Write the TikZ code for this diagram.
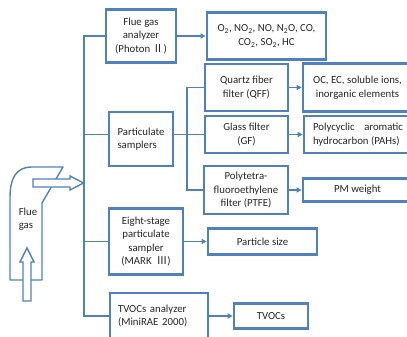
\documentclass[tikz,border=0pt]{standalone}
\usepackage{fontspec}
\setmainfont{Carlito}
\newfontfamily\cjkfont{Noto Sans CJK SC}
\usetikzlibrary{arrows.meta,calc}
\definecolor{lineblue}{RGB}{79,129,189}
\definecolor{txt}{RGB}{38,38,38}
\tikzset{
  box/.style={draw=lineblue, line width=2.6pt, inner sep=1pt, align=center, text=txt,
    font=\fontsize{10.8}{13.4}\selectfont},
  conn/.style={draw=lineblue, line width=1.4pt},
  arr/.style={conn, -{Triangle[length=5pt,width=5pt]}},
  duct/.style={draw=lineblue, line width=1.4pt, line join=round},
  hollow/.style={draw=lineblue, line width=1.4pt, fill=white, line join=miter},
  lbl/.style={text=txt, font=\fontsize{10.8}{13.4}\selectfont, inner sep=0pt},
}
\begin{document}
\begin{tikzpicture}[x=1pt,y=-1pt]
\useasboundingbox (0,0) rectangle (407,337);

% boxes
\node[box, minimum width=70pt, minimum height=53pt] (ana) at (141,36) {Flue gas\\analyzer\\(Photon {\cjkfont Ⅱ})};
\node[box, minimum width=119pt, minimum height=47pt] (gas) at (266.5,36) {O\textsubscript{2}, NO\textsubscript{2}, NO, N\textsubscript{2}O, CO,\\CO\textsubscript{2}, SO\textsubscript{2}, HC};
\node[box, minimum width=64pt, minimum height=54pt, align=left] (part) at (141,139) {Particulate\\samplers};
\node[box, minimum width=83pt, minimum height=47pt] (qff) at (246.5,87.5) {Quartz fiber\\filter (QFF)};
\node[box, minimum width=109pt, minimum height=48pt] (oc) at (357.5,87.5) {OC, EC, soluble ions,\\inorganic elements};
\node[box, minimum width=83pt, minimum height=37pt] (gf) at (246.5,134.5) {Glass filter\\(GF)};
\node[box, minimum width=108pt, minimum height=37pt] (pahs) at (358,134.5) {\parbox{90pt}{Polycyclic\hfill aromatic\\hydrocarbon (PAHs)}};
\node[box, minimum width=84pt, minimum height=48pt] (ptfe) at (246,190) {Polytetra-\\fluoroethylene\\filter (PTFE)};
\node[box, minimum width=109pt, minimum height=23pt] (pm) at (357.5,190) {PM weight};
\node[box, minimum width=74pt, minimum height=66pt] (eight) at (146,241.5) {Eight-stage\\particulate\\sampler\\(MARK\ \ {\cjkfont Ⅲ})};
\node[box, minimum width=109pt, minimum height=26pt] (size) at (262.5,241.5) {Particle size};
\node[box, minimum width=98pt, minimum height=46pt, align=left, text width=82pt] (tvan) at (159,316) {TVOCs analyzer\\(MiniRAE 2000)};
\node[box, minimum width=74pt, minimum height=25pt] (tvocs) at (271,316) {TVOCs};

% main bus
\coordinate (bt) at (84,36);
\coordinate (bb) at (84,316);
\draw[conn] (ana.west) -- (bt) -- (bb) -- (tvan.west);
\draw[conn] (bt |- gf.west) -- (part.west |- gf.west);
\draw[conn] (bt |- eight.west) -- (eight.west);

% particulate bus
\coordinate (pb) at (187,190);
\draw[conn] (qff.west) -| (pb) -- (ptfe.west);
\draw[conn] (part.east |- gf.west) -- (gf.west);

% arrows
\draw[arr] (ana.east) -- (gas.west);
\draw[arr] (qff.east) -- (oc.west);
\draw[arr] (gf.east) -- (pahs.west);
\draw[arr] (ptfe.east) -- (pm.west);
\draw[arr] (eight.east) -- (size.west);
\draw[arr] (tvan.east) -- (tvocs.west);

% flue duct
\draw[duct] (42,280) -- (42,203) -- (63,167) -- (32,167)
  .. controls (16,167) and (10,178) .. (10,198) -- (10,280) -- cycle;
% big hollow arrow
\draw[hollow] (33,179) -- (70,179) -- (70,176) -- (83.5,183) -- (70,190) -- (70,187) -- (33,187) -- cycle;
% small hollow arrow
\draw[hollow] (23,301) -- (23,262) -- (20,262) -- (27,248) -- (34,262) -- (31,262) -- (31,301) -- cycle;
\node[lbl, align=left] (flue) at (28,219) {Flue\\gas};
\end{tikzpicture}
\end{document}
